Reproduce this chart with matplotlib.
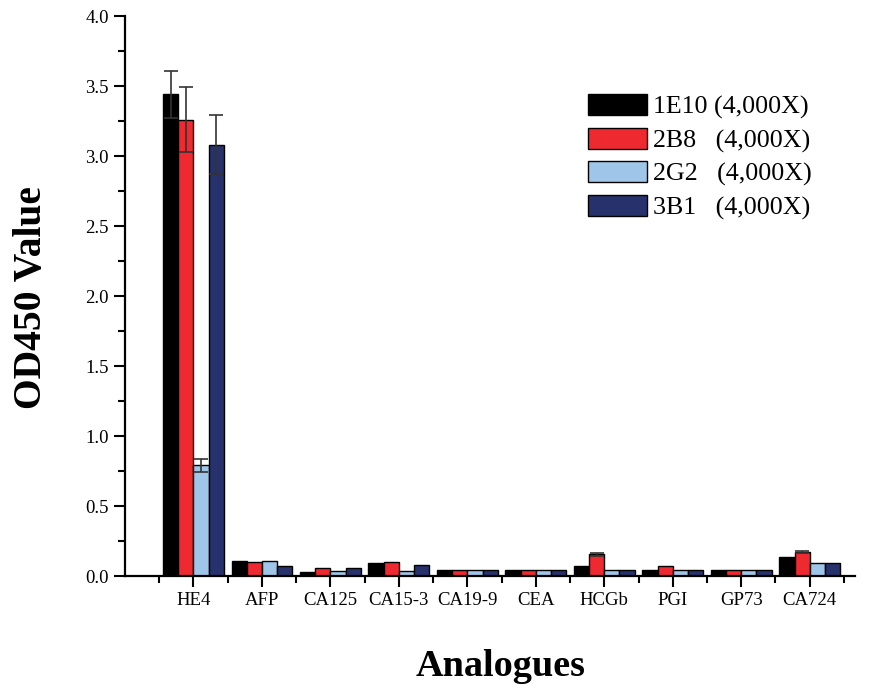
import numpy as np
import matplotlib
matplotlib.use('Agg')
import matplotlib.pyplot as plt

plt.rcParams['font.family'] = ['Liberation Serif', 'DejaVu Serif']

categories = ['HE4', 'AFP', 'CA125', 'CA15-3', 'CA19-9', 'CEA', 'HCGb', 'PGI', 'GP73', 'CA724']
series_names = ['1E10 (4,000X)', '2B8   (4,000X)', '2G2   (4,000X)', '3B1   (4,000X)']

vals_1e10 = [3.44, 0.11, 0.03, 0.09, 0.045, 0.045, 0.075, 0.04, 0.045, 0.135]
vals_2b8 = [3.26, 0.10, 0.055, 0.10, 0.04, 0.04, 0.155, 0.07, 0.04, 0.17]
vals_2g2 = [0.79, 0.11, 0.035, 0.035, 0.04, 0.04, 0.04, 0.04, 0.04, 0.09]
vals_3b1 = [3.08, 0.07, 0.06, 0.08, 0.04, 0.04, 0.04, 0.04, 0.04, 0.09]

err_1e10 = [0.17, 0, 0, 0, 0, 0, 0, 0, 0, 0]
err_2b8 = [0.23, 0, 0, 0, 0, 0, 0.01, 0, 0, 0.008]
err_2g2 = [0.045, 0, 0, 0, 0, 0, 0, 0, 0, 0]
err_3b1 = [0.21, 0, 0, 0, 0, 0, 0, 0, 0, 0]

colors = ['#000000', '#ee2a30', '#9fc5e8', '#27316b']

fig = plt.figure(figsize=(8.69, 6.85), dpi=100)
ax = fig.add_axes([0.1438, 0.159, 0.840, 0.8175])

x = np.arange(len(categories))
width = 0.222
all_vals = [vals_1e10, vals_2b8, vals_2g2, vals_3b1]
all_errs = [err_1e10, err_2b8, err_2g2, err_3b1]

for i, (v, e) in enumerate(zip(all_vals, all_errs)):
    offs = (i - 1.5) * width
    e = np.array(e)
    ax.bar(x + offs, v, width, color=colors[i], edgecolor='black', linewidth=1.0,
           label=series_names[i], zorder=2)
    # only bars with a visible error bar
    mask = e > 0
    ax.errorbar((x + offs)[mask], np.array(v)[mask], yerr=e[mask], fmt='none',
                ecolor='#333333', elinewidth=1.2, capsize=5, capthick=1.2, zorder=3)

ax.set_xlim(-1.0, 9.66)
ax.set_ylim(0, 4.0)
ax.set_xticks(x)
ax.set_xticklabels(categories)
ax.set_xticks(np.arange(-0.5, 10, 1.0), minor=True)
ax.set_yticks(np.arange(0, 4.01, 0.5))
ax.set_yticklabels([f'{t:.1f}' for t in np.arange(0, 4.01, 0.5)])
ax.set_yticks(np.arange(0.25, 4.0, 0.5), minor=True)

ax.spines['top'].set_visible(False)
ax.spines['right'].set_visible(False)
ax.spines['left'].set_linewidth(1.6)
ax.spines['bottom'].set_linewidth(1.6)
ax.tick_params(axis='both', which='major', direction='out', length=8, width=1.5, labelsize=13.5)
ax.tick_params(axis='both', which='minor', direction='out', length=5, width=1.5)
ax.tick_params(axis='x', which='major', pad=3.5)

ax.set_xlabel('Analogues', fontsize=27.5, fontweight='bold')
ax.xaxis.set_label_coords(0.515, -0.130)
ax.set_ylabel('OD450 Value', fontsize=28.5, fontweight='bold')
ax.yaxis.set_label_coords(-0.103, 0.498)

ax.legend(loc='upper left', bbox_to_anchor=(0.634, 0.861), fontsize=18.7, frameon=False,
          borderpad=0, borderaxespad=0, handlelength=2.27, handleheight=0.88,
          handletextpad=0.23, labelspacing=0.33)

fig.savefig('out.png', dpi=100)
